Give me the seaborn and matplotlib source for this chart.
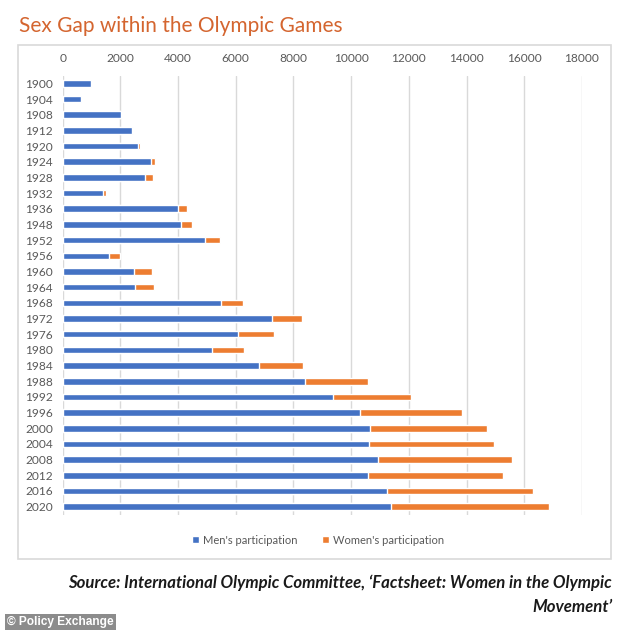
import numpy as np
import pandas as pd
import seaborn as sns
import matplotlib.pyplot as plt
from matplotlib.patches import Rectangle

# Daten
jahre = ["1900", "1904", "1908", "1912", "1920", "1924", "1928", "1932", "1936", "1948",
         "1952", "1956", "1960", "1964", "1968", "1972", "1976", "1980", "1984", "1988",
         "1992", "1996", "2000", "2004", "2008", "2012", "2016", "2020"]
maenner = [975, 645, 2020, 2400, 2610, 3060, 2860, 1385, 3980, 4090,
           4940, 1600, 2460, 2515, 5490, 7250, 6070, 5160, 6800, 8400,
           9360, 10300, 10655, 10620, 10920, 10575, 11245, 11395]
frauen = [22, 6, 37, 48, 65, 135, 280, 125, 325, 390,
          500, 380, 620, 645, 765, 1050, 1250, 1110, 1545, 2170,
          2700, 3530, 4065, 4320, 4640, 4680, 5050, 5465]

df = pd.DataFrame({"Jahr": jahre, "Maenner": maenner, "Frauen": frauen})
df["Gesamt"] = df["Maenner"] + df["Frauen"]

blau = "#4472C4"
orange = "#ED7D31"
grau_text = "#595959"

sns.set_theme(style="white")
plt.rcParams["font.family"] = ["Lato", "DejaVu Sans"]

fig = plt.figure(figsize=(6.34, 6.3), dpi=100)
ax = fig.add_axes([62.7 / 634, 1 - 514.5 / 630, (582 - 62.7) / 634, 439 / 630])

# Rahmen um das Diagramm
fig.patches.append(Rectangle((18 / 634, 1 - 559 / 630), 593 / 634, 514 / 630,
                             transform=fig.transFigure, fill=False,
                             edgecolor="#D9D9D9", linewidth=1.2))

# gestapelt: erst Gesamt (orange), dann Maenner (blau) darueber
sns.barplot(data=df, x="Gesamt", y="Jahr", orient="h", color=orange,
            saturation=1, width=0.42, ax=ax, label="Women's participation")
sns.barplot(data=df, x="Maenner", y="Jahr", orient="h", color=blau,
            saturation=1, width=0.42, ax=ax, label="Men's participation")

handles, labels = ax.get_legend_handles_labels()
if ax.get_legend() is not None:
    ax.get_legend().remove()

ax.set_xlim(0, 18000)
ax.set_xticks(np.arange(0, 18001, 2000))
ax.xaxis.tick_top()
ax.tick_params(axis="x", length=0, labelsize=8.6, labelcolor=grau_text, pad=8)
ax.tick_params(axis="y", length=0, labelsize=8.6, labelcolor=grau_text, pad=7)
ax.set_xlabel("")
ax.set_ylabel("")
ax.grid(axis="x", color="#D9D9D9", linewidth=1)
ax.set_axisbelow(True)
for s in ax.spines.values():
    s.set_visible(False)

# Legende
fig.legend(handles[::-1], labels[::-1], loc="center", bbox_to_anchor=(318 / 634, 1 - 540 / 630),
           ncol=2, frameon=False, fontsize=8.0, labelcolor=grau_text,
           handlelength=0.6, handleheight=0.6, handletextpad=0.4, columnspacing=2.2)

# Titel
fig.text(19 / 634, 1 - 26 / 630, "Sex Gap within the Olympic Games", color="#D4652F",
         fontsize=15, va="center", ha="left")

# Quelle
fig.text(612 / 634, 1 - 583 / 630,
         "Source: International Olympic Committee, \u2018Factsheet: Women in the Olympic",
         fontsize=12.1, style="italic", weight="bold", ha="right", va="center", color="#1a1a1a")
fig.text(612 / 634, 1 - 607 / 630, "Movement\u2019",
         fontsize=12.1, style="italic", weight="bold", ha="right", va="center", color="#1a1a1a")

# Copyright
fig.text(7 / 634, 1 - 622 / 630, "\u00a9 Policy Exchange", color="white", fontsize=8.6,
         weight="bold", family=["Liberation Sans", "DejaVu Sans"], ha="left", va="center",
         bbox=dict(boxstyle="square,pad=0.2", facecolor="#8C8C8C", edgecolor="none"))

plt.savefig("out.png", dpi=100)
